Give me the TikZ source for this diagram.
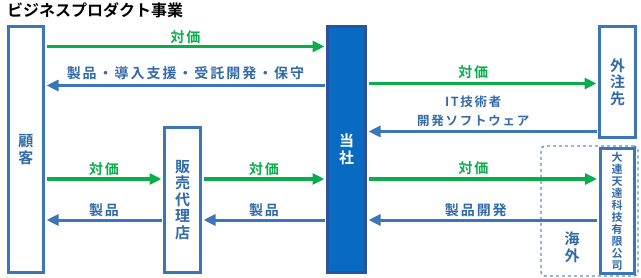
\documentclass[tikz,border=0pt]{standalone}
\usepackage{fontspec}
\setmainfont{Noto Sans CJK JP}[BoldFont={Noto Sans CJK JP Bold}]
\usetikzlibrary{arrows.meta}
\definecolor{pay}{RGB}{10,172,76}
\definecolor{goods}{RGB}{58,118,184}
\definecolor{goodstext}{RGB}{50,106,170}
\definecolor{ownfill}{RGB}{8,106,192}
\definecolor{owndraw}{RGB}{42,82,158}
\newcommand{\spaced}{\addfontfeatures{LetterSpace=14}}
\newcommand{\tightlines}{\lineskiplimit=-5pt\relax}
\begin{document}
\begin{tikzpicture}
[x=1pt, y=-1pt, font=\bfseries\fontsize{14}{16}\selectfont]
\tikzstyle{party}=[draw=goods, line width=3pt, fill=white, inner sep=0pt, align=center, text=goodstext, font=\bfseries\fontsize{15}{16.5}\selectfont]
\tikzstyle{own}=[party, draw=owndraw, fill=ownfill, text=white]
\tikzstyle{paid}=[draw=pay, line width=3.5pt, -{Triangle[length=12pt,width=11pt]}, shorten >=1.5pt, shorten <=1.5pt]
\tikzstyle{sent}=[draw=goods, line width=3pt, -{Triangle[length=12pt,width=11pt]}, shorten >=1.5pt, shorten <=1.5pt]
\tikzstyle{paylabel}=[text=pay, font=\bfseries\fontsize{14}{16}\selectfont\spaced, inner sep=0pt]
\tikzstyle{sentlabel}=[text=goodstext, font=\bfseries\fontsize{14}{16}\selectfont\spaced, inner sep=0pt]
\useasboundingbox (0,0) rectangle (641,278);

\node[anchor=west, inner sep=0pt, font=\bfseries\fontsize{16}{17}\selectfont] (title) at (7,10) {ビジネスプロダクト事業};

% parties
\node[party, minimum width=35pt, minimum height=246pt] (K) at (26,149.5) {顧\\客};
\node[party, minimum width=36pt, minimum height=145pt] (H) at (182.5,200) {販\\売\\代\\理\\店};
\node[own, minimum width=38pt, minimum height=246pt] (T) at (346.5,149.5) {当\\社};
\node[draw=goods!80, dashed, line width=1.4pt, rounded corners=4pt, minimum width=97pt, minimum height=130pt] (O) at (589.5,211) {};
\node[party, minimum width=36pt, minimum height=111pt] (G) at (617.5,82) {外\\注\\先};
\node[party, minimum width=34pt, minimum height=125pt, font=\bfseries\fontsize{11}{12}\selectfont\tightlines] (D) at (617,211) {大\\連\\天\\達\\科\\技\\有\\限\\公\\司};
\node[text=goodstext, align=center, inner sep=0pt, font=\bfseries\fontsize{15}{17}\selectfont] (abroad) at (572,247) {海\\外};

% rows
\coordinate (r1) at (0,46.5);
\coordinate (r2) at (0,85.5);
\coordinate (r3) at (0,83.5);
\coordinate (r4) at (0,131.5);
\coordinate (r5) at (0,179);
\coordinate (r6) at (0,220);

\draw[paid] (K.east |- r1) -- (T.west |- r1) node[paylabel, midway, yshift=9pt] {対価};
\draw[sent] (T.west |- r2) -- (K.east |- r2) node[sentlabel, midway, yshift=12pt] {製品・導入支援・受託開発・保守};
\draw[paid] (T.east |- r3) -- (G.west |- r3) node[paylabel, pos=0.46, yshift=11pt] {対価};
\draw[sent] (G.west |- r4) -- (T.east |- r4) node[pos=0.54, yshift=20pt, align=center, text=goodstext, inner sep=0pt, font=\bfseries\fontsize{12.5}{19}\selectfont\spaced] {IT技術者\\開発ソフトウェア};
\draw[paid] (K.east |- r5) -- (H.west |- r5) node[paylabel, midway, yshift=10pt] {対価};
\draw[sent] (H.west |- r6) -- (K.east |- r6) node[sentlabel, midway, yshift=10pt] {製品};
\draw[paid] (H.east |- r5) -- (T.west |- r5) node[paylabel, midway, yshift=10pt] {対価};
\draw[sent] (T.west |- r6) -- (H.east |- r6) node[sentlabel, midway, yshift=10pt] {製品};
\draw[paid] (T.east |- r5) -- (D.west |- r5) node[paylabel, pos=0.46, yshift=11pt] {対価};
\draw[sent] (D.west |- r6) -- (T.east |- r6) node[sentlabel, pos=0.53, yshift=10pt] {製品開発};
\end{tikzpicture}
\end{document}
